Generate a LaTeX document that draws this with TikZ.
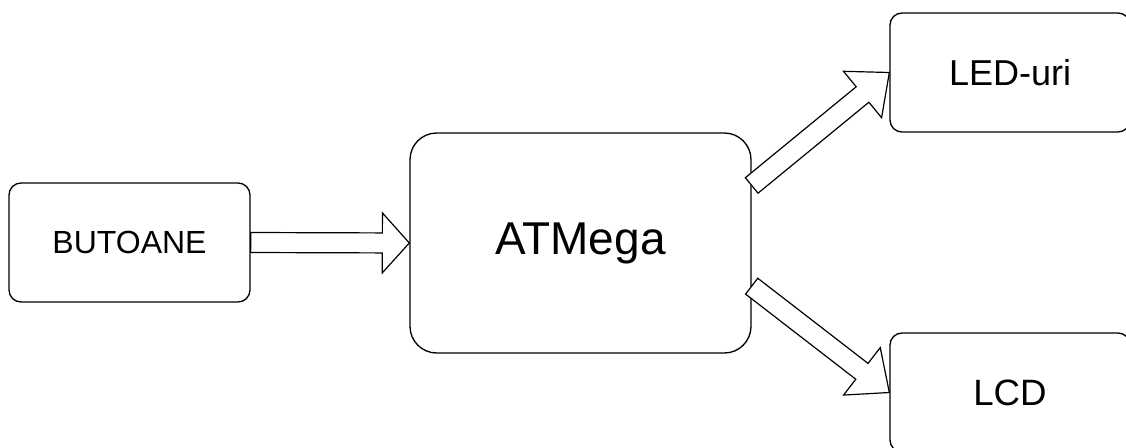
\documentclass[tikz,border=0pt]{standalone}
\usepackage{fontspec}
\setmainfont{Liberation Sans}
\usetikzlibrary{calc}
\tikzset{
  box/.style={draw=black, line width=1pt, rounded corners=9pt, align=center, inner sep=0pt},
  bigbox/.style={box, rounded corners=20pt},
  flexarrow/.style={draw=black, line width=0.9pt, fill=white, line join=miter},
}
\newcommand{\flexarrow}[3]{%
  \draw[flexarrow]
    ($(#1)!7.5pt!90:(#2)$) coordinate (fa-a)
    -- ($($(#2)!#3!(#1)$)!7.5pt!90:(#2)$)
    -- ($($(#2)!#3!(#1)$)!22.5pt!90:(#2)$)
    -- (#2)
    -- ($($(#2)!#3!(#1)$)!22.5pt!-90:(#2)$)
    -- ($($(#2)!#3!(#1)$)!7.5pt!-90:(#2)$)
    -- ($(#1)!7.5pt!-90:(#2)$)
    -- cycle;}
\begin{document}
\begin{tikzpicture}[x=0.75pt, y=-0.75pt]
\clip (0,0) rectangle (1126,447);
\useasboundingbox (0,0) rectangle (1126,447);
\node[box, minimum width=180.75pt, minimum height=89.25pt, font=\fontsize{24pt}{28pt}\selectfont] (but) at (129.5,242.5) {BUTOANE};
\node[bigbox, minimum width=255.75pt, minimum height=165pt, font=\fontsize{34.5pt}{40pt}\selectfont] (atm) at (580.5,243) {ATMega};
\node[box, minimum width=180pt, minimum height=89.25pt, font=\fontsize{27pt}{32pt}\selectfont] (led) at (1010,72.5) {LED-uri};
\node[box, minimum width=180pt, minimum height=89.25pt, font=\fontsize{27.5pt}{32pt}\selectfont] (lcd) at (1010,392.5) {LCD};
\coordinate (t2) at ($(atm.north east)!0.24!(atm.south east)$);
\coordinate (t3) at ($(atm.north east)!0.695!(atm.south east)$);
\flexarrow{but.east}{atm.west}{20.25pt}
\flexarrow{t2}{led.west}{26pt}
\flexarrow{t3}{lcd.west}{26pt}
\end{tikzpicture}
\end{document}
